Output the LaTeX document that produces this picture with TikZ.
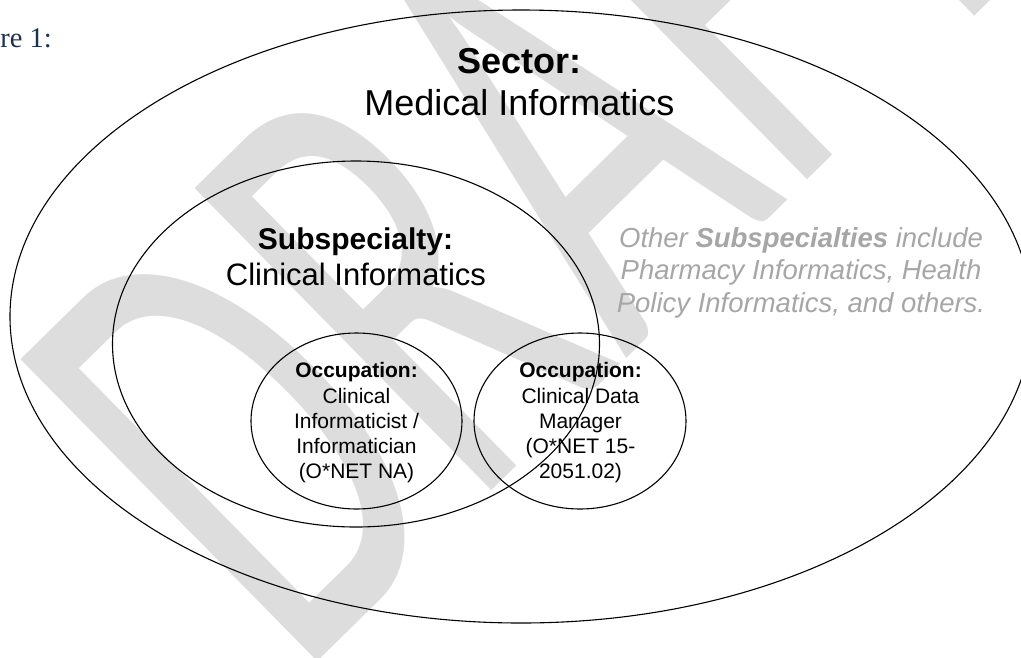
\documentclass[tikz,border=0pt]{standalone}
\usepackage{fontspec}
\setmainfont{Liberation Sans}
\newfontfamily\capfont{Liberation Serif}
\newfontfamily\wmfont{Carlito}
\usetikzlibrary{shapes.geometric}
\definecolor{capblue}{HTML}{1F3050}
\definecolor{notegray}{HTML}{A6A6A6}
\definecolor{wmgray}{HTML}{DDDDDD}
\begin{document}
\begin{tikzpicture}[x=1pt,y=-1pt,
  oval/.style={draw=black, line width=1.1pt, ellipse, inner sep=0pt, outer sep=0pt},
  txt/.style={anchor=base, inner sep=0pt},
  bigtxt/.style={txt, font=\fontsize{36}{36}\selectfont},
  midtxt/.style={txt, font=\fontsize{31}{31}\selectfont},
  occtxt/.style={txt, font=\fontsize{21}{21}\selectfont},
  notetxt/.style={txt, text=notegray, font=\fontsize{27.5}{27.5}\selectfont\itshape}]
\useasboundingbox (0,0) rectangle (1021,657);
\clip (0,0) rectangle (1021,657);

% background watermark
\node[rotate=44.5, anchor=base west, inner sep=0pt, text=wmgray] (wm) at (298,681)
  {\scalebox{0.60}[1]{\fontsize{660}{660}\wmfont DRAFT}};

% caption
\node[anchor=base east, inner sep=0pt, text=capblue, font=\fontsize{28.5}{28.5}\capfont] (cap) at (52,47) {Figure 1:};

% nested sets
\node[oval, minimum width=1022, minimum height=613] (sector) at (521,316.5) {};
\node[oval, minimum width=487, minimum height=366] (subsp) at (356,344) {};
\node[oval, minimum width=211, minimum height=176] (occA) at (356.5,421) {};
\node[oval, minimum width=212, minimum height=176] (occB) at (580,421) {};

% sector label
\node[bigtxt, font=\fontsize{36}{36}\selectfont\bfseries] (secT) at (519.5,73) {Sector:};
\node[bigtxt] (secN) at (519.5,115) {Medical Informatics};

% subspecialty label
\node[midtxt, font=\fontsize{30}{30}\selectfont\bfseries] (subT) at (355.5,249) {Subspecialty:};
\node[midtxt] (subN) at (356,285) {Clinical Informatics};

% other subspecialties note
\node[notetxt] (note1) at (801,247) {Other \textbf{Subspecialties} include};
\node[notetxt] (note2) at (801,279.5) {Pharmacy Informatics, Health};
\node[notetxt] (note3) at (801,312) {Policy Informatics, and others.};

% occupations
\node[occtxt, font=\fontsize{21}{21}\selectfont\bfseries] (aT) at (356.5,377.5) {Occupation:};
\node[occtxt] (a1) at (356.5,403) {Clinical};
\node[occtxt] (a2) at (356.5,428) {Informaticist /};
\node[occtxt] (a3) at (356.5,453) {Informatician};
\node[occtxt] (a4) at (356.5,478) {(O*NET NA)};

\node[occtxt, font=\fontsize{21}{21}\selectfont\bfseries] (bT) at (580.5,377.5) {Occupation:};
\node[occtxt] (b1) at (580.5,403) {Clinical Data};
\node[occtxt] (b2) at (580.5,428) {Manager};
\node[occtxt] (b3) at (580.5,453) {(O*NET 15-};
\node[occtxt] (b4) at (580.5,478) {2051.02)};
\end{tikzpicture}
\end{document}
